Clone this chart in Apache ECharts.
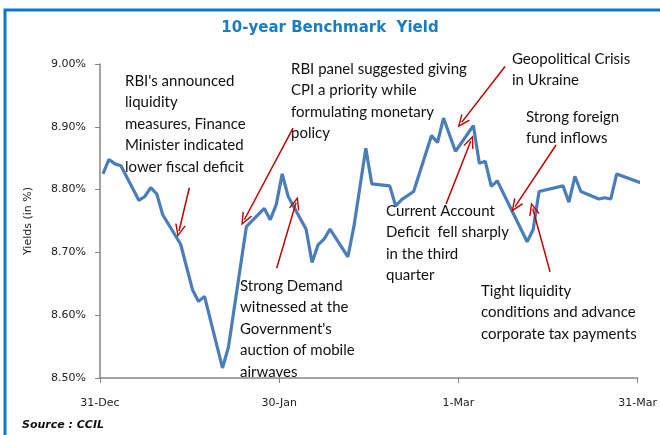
<!DOCTYPE html>
<html>
<head>
<meta charset="utf-8">
<script src="https://cdn.jsdelivr.net/npm/echarts@6/dist/echarts.min.js"></script>
<style>
  html, body { margin: 0; padding: 0; background: #fff; }
  #chart { width: 660px; height: 435px; }
</style>
</head>
<body>
<div id="chart"></div>
<script>
// day offsets from 31-Dec (trading days) and the yield on each day
const days = [0, 1, 2, 3, 6, 7, 8, 9, 10, 13, 15, 16, 17, 20, 21, 24, 27, 28, 29, 30,
  31, 34, 35, 36, 37, 38, 41, 42, 44, 45, 48, 49, 50, 52, 55, 56, 57, 59, 62, 63,
  64, 65, 66, 71, 72, 73, 77, 78, 79, 80, 83, 84, 85, 86, 90];
const yields = [8.825, 8.848, 8.841, 8.838, 8.783, 8.789, 8.803, 8.793, 8.760, 8.713,
  8.640, 8.622, 8.630, 8.516, 8.549, 8.741, 8.770, 8.752, 8.776, 8.825,
  8.789, 8.737, 8.684, 8.712, 8.721, 8.737, 8.693, 8.741, 8.866, 8.809,
  8.806, 8.774, 8.784, 8.797, 8.886, 8.875, 8.914, 8.861, 8.902, 8.842,
  8.845, 8.805, 8.814, 8.717, 8.736, 8.797, 8.806, 8.780, 8.821, 8.797,
  8.785, 8.787, 8.785, 8.825, 8.811];
const xLabels = ['31-Dec', '30-Jan', '1-Mar', '31-Mar'];

// annotations: text lines, text position, arrow tail -> head (in data units)
const notes = [
  { lines: ["RBI's announced", 'liquidity', 'measures, Finance', 'Minister indicated', 'lower fiscal deficit'],
    x: 125, y: 70, from: [14.95, 8.803], to: [13.23, 8.734] },
  { lines: ['RBI panel suggested giving', 'CPI a priority while', 'formulating monetary', 'policy'],
    x: 291, y: 58, from: [32.31, 8.898], to: [24.16, 8.752] },
  { lines: ['Strong Demand', 'witnessed at the', "Government's", 'auction of mobile', 'airwaves'],
    x: 240, y: 275, from: [29.58, 8.675], to: [32.81, 8.779] },
  { lines: ['Geopolitical Crisis', 'in Ukraine'],
    x: 512, y: 48, from: [67.8, 8.996], to: [60.54, 8.907] },
  { lines: ['Current Account', 'Deficit  fell sharply', 'in the third', 'quarter'],
    x: 386, y: 200, from: [57.93, 8.777], to: [62.06, 8.877] },
  { lines: ['Strong foreign', 'fund inflows'],
    x: 526, y: 106, from: [76.34, 8.871], to: [69.48, 8.773] },
  { lines: ['Tight liquidity', 'conditions and advance', 'corporate tax payments'],
    x: 481, y: 280, from: [75.34, 8.669], to: [72.44, 8.770] }
];

const chart = echarts.init(document.getElementById('chart'));

const noteTexts = notes.map(n => ({
  type: 'text',
  left: n.x,
  top: n.y,
  z: 10,
  style: {
    text: n.lines.join('\n'),
    font: '15px Lato',
    lineHeight: 21.5,
    fill: '#111'
  }
}));

const option = {
  animation: false,
  title: {
    text: '10-year Benchmark  Yield',
    left: 'center',
    top: 16,
    textStyle: { color: '#1a7cc4', fontSize: 15, fontWeight: 'bold', fontFamily: 'DejaVu Sans' }
  },
  grid: { left: 100, right: 22, top: 64, bottom: 57 },
  xAxis: {
    type: 'value',
    min: 0,
    max: 90,
    interval: 30,
    splitLine: { show: false },
    axisLine: { lineStyle: { color: '#868686', width: 1.5 } },
    axisTick: { show: true, length: 5, lineStyle: { color: '#868686' } },
    axisLabel: {
      color: '#222',
      fontSize: 11,
      fontFamily: 'DejaVu Sans',
      margin: 20,
      formatter: v => xLabels[Math.round(v / 30)]
    }
  },
  yAxis: {
    type: 'value',
    min: 8.5,
    max: 9.0,
    interval: 0.1,
    name: 'Yields (in %)',
    nameLocation: 'middle',
    nameGap: 66,
    nameTextStyle: { color: '#222', fontSize: 11, fontFamily: 'DejaVu Sans' },
    splitLine: { show: false },
    axisLine: { show: true, lineStyle: { color: '#868686', width: 1.5 } },
    axisTick: { show: true, length: 5, lineStyle: { color: '#868686' } },
    axisLabel: {
      color: '#222',
      fontSize: 11,
      fontFamily: 'DejaVu Sans',
      margin: 14,
      formatter: v => v.toFixed(2) + '%'
    }
  },
  series: [{
    type: 'line',
    // points sit in the middle of their day, like the original
    data: days.map((d, i) => [d + 0.5, yields[i]]),
    showSymbol: false,
    clip: false,
    lineStyle: { color: '#4a7ebb', width: 3.2 },
    markLine: {
      silent: true,
      symbol: ['none', 'path://M0,12 L5,0 L10,12 L8.6,12 L5,3.2 L1.4,12 Z'],
      symbolSize: [11, 13],
      label: { show: false },
      lineStyle: { color: '#c00000', width: 1.5, type: 'solid' },
      itemStyle: { color: '#c00000' },
      data: notes.map(n => [{ coord: n.from }, { coord: n.to }])
    }
  }],
  graphic: [
    {
      type: 'rect',
      shape: { x: 5, y: 10, width: 700, height: 500 },
      style: { fill: 'none', stroke: '#0a78c8', lineWidth: 3 },
      z: -1
    },
    {
      type: 'text',
      left: 22,
      top: 420,
      style: { text: 'Source : CCIL', font: 'italic bold 11px "DejaVu Sans"', fill: '#111' }
    }
  ].concat(noteTexts)
};

chart.setOption(option);
</script>
</body>
</html>
